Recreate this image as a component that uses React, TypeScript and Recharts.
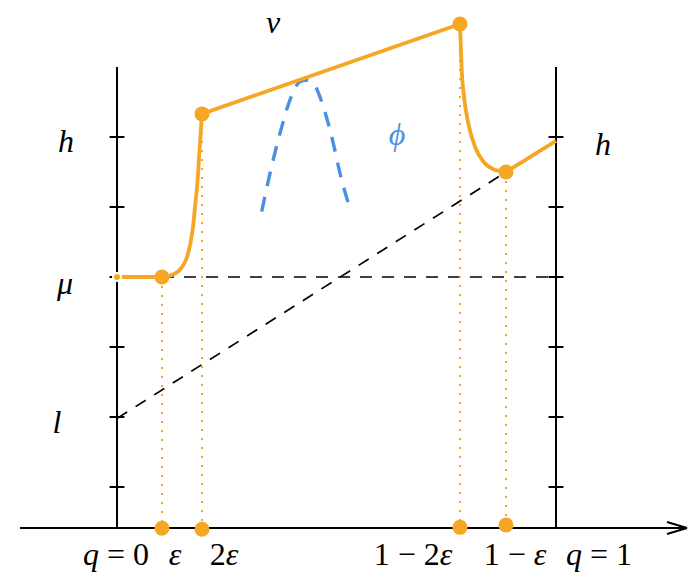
import React from 'react';
import {
  ComposedChart,
  Line,
  Scatter,
  XAxis,
  YAxis,
  ReferenceLine,
  ReferenceDot,
} from 'recharts';

const ORANGE = '#F5A623';
const BLUE = '#4A90E2';
const FONT = 'Liberation Serif';

// q = 0 .. 1 on the x axis, value levels on y (l = 2, mu = 4, h = 6)
const AXIS_Y = 0.414;
const AXIS_TOP = 7.0;
const tickLevels = [1, 2, 3, 4, 5, 6];

// marked points: eps, 2eps, 1-2eps, 1-eps
const markQ = [0.1025, 0.1936, 0.7813, 0.8861];
const markV = [4, 6.33, 7.614, 5.5];
const markAxisY = [0.41, 0.396, 0.424, 0.457];

// the orange curve, in pieces
const riseCurve = [
  { x: 0, y: 4 },
  { x: 0.1025, y: 4 },
  { x: 0.1291, y: 4.039 },
  { x: 0.1481, y: 4.143 },
  { x: 0.1595, y: 4.286 },
  { x: 0.1671, y: 4.476 },
  { x: 0.1731, y: 4.714 },
  { x: 0.1777, y: 5.0 },
  { x: 0.1830, y: 5.333 },
  { x: 0.1875, y: 5.762 },
  { x: 0.1936, y: 6.33 },
];
const topLine = [
  { x: 0.1936, y: 6.33 },
  { x: 0.7813, y: 7.614 },
];
const fallCurve = [
  { x: 0.7813, y: 7.614 },
  { x: 0.7829, y: 7.339 },
  { x: 0.7852, y: 6.957 },
  { x: 0.7904, y: 6.576 },
  { x: 0.8002, y: 6.196 },
  { x: 0.8155, y: 5.861 },
  { x: 0.8344, y: 5.647 },
  { x: 0.8572, y: 5.539 },
  { x: 0.8861, y: 5.5 },
];
const tailLine = [
  { x: 0.8861, y: 5.5 },
  { x: 1, y: 5.943 },
];

// the blue phi bump
const phiCurve = [
  { x: 0.3296, y: 4.933 },
  { x: 0.3485, y: 5.481 },
  { x: 0.3713, y: 6.053 },
  { x: 0.3941, y: 6.529 },
  { x: 0.4169, y: 6.79 },
  { x: 0.4321, y: 6.814 },
  { x: 0.4471, y: 6.767 },
  { x: 0.4699, y: 6.433 },
  { x: 0.4927, y: 5.91 },
  { x: 0.508, y: 5.481 },
  { x: 0.5269, y: 5.053 },
];

// dashed guides: mu level and the line from l to (1-eps)
const muLevel = 4;
const diagStart = { x: 0, y: 1.98 };

const bottomLabels = ['q = 0', 'ε', '2ε', '1 − 2ε', '1 − ε', 'q = 1'];
const bottomQ = [0, ...markQ, 1];
const bottomDx = [-1, 13, 22, -47, 9, 43];

const sideLabels = [
  { text: 'h', x: 0, y: 6, dx: -51, dy: 15, color: '#000' },
  { text: 'μ', x: 0, y: 4, dx: -52, dy: 17, color: '#000' },
  { text: 'l', x: 0, y: 2, dx: -60, dy: 16, color: '#000' },
  { text: 'h', x: 1, y: 6, dx: 47, dy: 18, color: '#000' },
  { text: 'v', x: 0.3554, y: 7.486, dx: 0, dy: 0, color: '#000' },
  { text: 'ϕ', x: 0.6378, y: 5.886, dx: 0, dy: 0, color: BLUE },
];

const isLetter = (p: string) => /[A-Za-z\u0370-\u03FF]/.test(p);

const runs = (s: string) => {
  const parts = s.match(/[A-Za-z\u0370-\u03FF]+|[^A-Za-z\u0370-\u03FF]+/g) || [];
  return parts.map((p, i) => (
    <tspan
      key={i}
      fontFamily={FONT}
      fontStyle={isLetter(p) ? 'italic' : 'normal'}
      style={{ fontFamily: FONT, fontStyle: isLetter(p) ? 'italic' : 'normal' }}
    >
      {p}
    </tspan>
  ));
};

const mathLabel = (text: string, dx: number, dy: number, color: string) => (props: any) => {
  const vb = props.viewBox || { x: 0, y: 0, width: 0, height: 0 };
  const cx = vb.x + vb.width / 2;
  const cy = vb.y + vb.height / 2;
  return (
    <text
      x={cx + dx}
      y={cy + dy}
      textAnchor="middle"
      fontFamily={FONT}
      fontSize={32}
      fill={color}
      style={{ fontFamily: FONT, fontSize: 32, fill: color }}
    >
      {runs(text)}
    </text>
  );
};

const dotShape = (p: any) => <circle cx={p.cx} cy={p.cy} r={7.5} fill={ORANGE} />;

const TICK_HALF = 0.017;

export default function App() {
  const marks = markQ.map((q, i) => ({ x: q, y: markV[i] }));
  const axisMarks = markQ.map((q, i) => ({ x: q, y: markAxisY[i] }));

  return (
    <div style={{ position: 'absolute', left: 0, top: 0, width: 692, height: 582, background: '#fff', fontFamily: FONT }}>
      <ComposedChart width={692} height={582} margin={{ top: 0, right: 0, bottom: 0, left: 0 }}>
        <XAxis type="number" dataKey="x" domain={[-0.2665, 1.3098]} hide allowDataOverflow />
        <YAxis type="number" dataKey="y" domain={[-0.357, 7.957]} hide allowDataOverflow />

        {/* axes */}
        <ReferenceLine segment={[{ x: -0.221, y: AXIS_Y }, { x: 1.2984, y: AXIS_Y }]} stroke="#000" strokeWidth={2} />
        <ReferenceLine segment={[{ x: 1.2528, y: 0.5 }, { x: 1.2984, y: AXIS_Y }]} stroke="#000" strokeWidth={2} />
        <ReferenceLine segment={[{ x: 1.2528, y: 0.329 }, { x: 1.2984, y: AXIS_Y }]} stroke="#000" strokeWidth={2} />
        <ReferenceLine segment={[{ x: 0, y: AXIS_Y }, { x: 0, y: AXIS_TOP }]} stroke="#000" strokeWidth={2} />
        <ReferenceLine segment={[{ x: 1, y: AXIS_Y }, { x: 1, y: AXIS_TOP }]} stroke="#000" strokeWidth={2} />
        {tickLevels.map((t) => (
          <ReferenceLine key={'lt' + t} segment={[{ x: -TICK_HALF, y: t }, { x: TICK_HALF, y: t }]} stroke="#000" strokeWidth={2} />
        ))}
        {tickLevels.map((t) => (
          <ReferenceLine key={'rt' + t} segment={[{ x: 1 - TICK_HALF, y: t }, { x: 1 + TICK_HALF, y: t }]} stroke="#000" strokeWidth={2} />
        ))}

        {/* dashed guides */}
        <ReferenceLine segment={[{ x: markQ[0], y: muLevel }, { x: 1, y: muLevel }]} stroke="#000" strokeWidth={1.7} strokeDasharray="12 10" />
        <ReferenceLine segment={[diagStart, { x: markQ[3], y: markV[3] }]} stroke="#000" strokeWidth={1.7} strokeDasharray="12 10" />

        {/* dotted drop lines */}
        {markQ.map((q, i) => (
          <ReferenceLine key={'d' + i} segment={[{ x: q, y: markV[i] }, { x: q, y: markAxisY[i] }]} stroke={ORANGE} strokeWidth={2} strokeDasharray="2 7" />
        ))}

        <Line data={phiCurve} dataKey="y" type="monotone" stroke={BLUE} strokeWidth={3.4} strokeDasharray="15 11" dot={false} isAnimationActive={false} />

        <Line data={riseCurve} dataKey="y" type="monotone" stroke={ORANGE} strokeWidth={3.8} dot={false} isAnimationActive={false} />
        <Line data={topLine} dataKey="y" type="linear" stroke={ORANGE} strokeWidth={3.8} dot={false} isAnimationActive={false} />
        <Line data={fallCurve} dataKey="y" type="monotone" stroke={ORANGE} strokeWidth={3.8} dot={false} isAnimationActive={false} />
        <Line data={tailLine} dataKey="y" type="linear" stroke={ORANGE} strokeWidth={3.8} dot={false} isAnimationActive={false} />

        <Scatter data={marks} dataKey="y" shape={dotShape} isAnimationActive={false} />
        <Scatter data={axisMarks} dataKey="y" shape={dotShape} isAnimationActive={false} />

        {bottomLabels.map((t, i) => (
          <ReferenceDot key={'bl' + i} x={bottomQ[i]} y={AXIS_Y} r={1} fill="none" stroke="none" label={{ content: mathLabel(t, bottomDx[i], 37, '#000') }} />
        ))}
        {sideLabels.map((l, i) => (
          <ReferenceDot key={'sl' + i} x={l.x} y={l.y} r={1} fill="none" stroke="none" label={{ content: mathLabel(l.text, l.dx, l.dy, l.color) }} />
        ))}
      </ComposedChart>
    </div>
  );
}
